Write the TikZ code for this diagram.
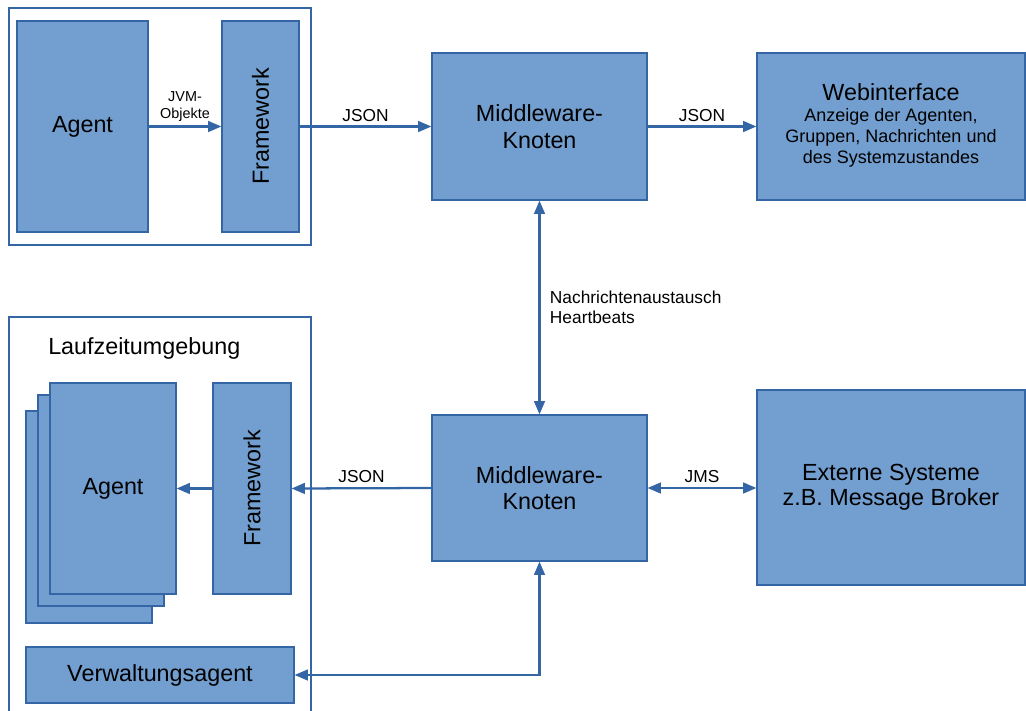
\documentclass[tikz,border=0pt]{standalone}
\usepackage{fontspec}
\setmainfont{Liberation Sans}
\usepackage{graphicx}
\usetikzlibrary{arrows.meta}
\definecolor{boxfill}{HTML}{729FCF}
\definecolor{boxline}{HTML}{3465A4}
\begin{document}
\begin{tikzpicture}[x=0.75pt,y=-0.75pt,
  box/.style={draw=boxline, line width=0.8pt, fill=boxfill, inner sep=0pt, align=center, font=\fontsize{17.5}{20}\selectfont},
  frame/.style={draw=boxline, line width=0.8pt},
  conn/.style={draw=boxline, line width=1.7pt, -{Triangle[length=10pt,width=8pt]}},
  biconn/.style={draw=boxline, line width=1.7pt, {Triangle[length=10pt,width=8pt]}-{Triangle[length=10pt,width=8pt]}},
  lbl/.style={font=\fontsize{13}{15}\selectfont, inner sep=3pt, align=left},
  title/.style={font=\fontsize{17.5}{20}\selectfont, inner sep=0pt},
]
\useasboundingbox (0,0) rectangle (1026,711);

% outer frames
\coordinate (f1a) at (9,8);
\coordinate (f1b) at (311,245);
\draw[frame] (f1a) rectangle (f1b);
\coordinate (f2a) at (9,716);
\coordinate (f2b) at (9,317);
\coordinate (f2c) at (311,317);
\coordinate (f2d) at (311,716);
\draw[frame] (f2a) -- (f2b) -- (f2c) -- (f2d);

% top group
\node[box, minimum width=98.25pt, minimum height=158.25pt] (agentTop) at (82.5,126.5) {Agent};
\node[box, minimum width=57.75pt, minimum height=158.25pt] (fwTop) at (260.5,126.5) {\rotatebox{90}{Framework}};

% middleware and right side
\node[box, minimum width=161.25pt, minimum height=110.25pt] (mwTop) at (539.5,126.5) {Middleware-\\Knoten};
\node[box, minimum width=201pt, minimum height=110.25pt] (web) at (891,126.5) {Webinterface\\[-4.5pt]{\fontsize{13.5}{15.75}\selectfont\begin{tabular}[t]{@{}c@{}}Anzeige der Agenten,\\Gruppen, Nachrichten und\\des Systemzustandes\end{tabular}}};
\node[box, minimum width=161.25pt, minimum height=109.5pt] (mwBot) at (539.5,488) {Middleware-\\Knoten};
\node[box, minimum width=201pt, minimum height=146.25pt, font=\fontsize{17.5}{18.75}\selectfont] (ext) at (891,487.5) {Externe Systeme\\z.B. Message Broker};

% bottom group
\node[title, anchor=west] (lauf) at (48,348) {Laufzeitumgebung};
\node[box, minimum width=94.5pt, minimum height=159pt] (agentB3) at (89,517) {};
\node[box, minimum width=94.5pt, minimum height=158.25pt] (agentB2) at (101,500.5) {};
\node[box, minimum width=94.5pt, minimum height=158.25pt] (agentB1) at (113,488.5) {Agent};
\node[box, minimum width=58.5pt, minimum height=158.25pt] (fwBot) at (252,488.5) {\rotatebox{90}{Framework}};
\node[box, minimum width=201pt, minimum height=42pt] (verw) at (160,675) {Verwaltungsagent};

% connectors
\draw[conn] (agentTop.east) -- node[lbl, above, align=center, font=\fontsize{10.8}{12.5}\selectfont] (jvmlbl) {JVM-\\Objekte} (fwTop.west);
\draw[conn] (fwTop.east) -- node[lbl, above] (json1) {JSON} (mwTop.west);
\draw[conn] (mwTop.east) -- node[lbl, above] (json2) {JSON} (web.west);
\draw[biconn] (mwTop.south) -- node[lbl, right, xshift=4pt] (nachr) {Nachrichtenaustausch\\Heartbeats} (mwBot.north);
\draw[conn] (mwBot.west) -- node[lbl, above] (json3) {JSON} (fwBot.east);
\draw[conn] (fwBot.west) -- (agentB1.east);
\draw[biconn] (mwBot.east) -- node[lbl, above] (jms) {JMS} (mwBot.east -| ext.west);
\draw[biconn] (mwBot.south) -- (mwBot.south |- verw.east) -- (verw.east);
\end{tikzpicture}
\end{document}
